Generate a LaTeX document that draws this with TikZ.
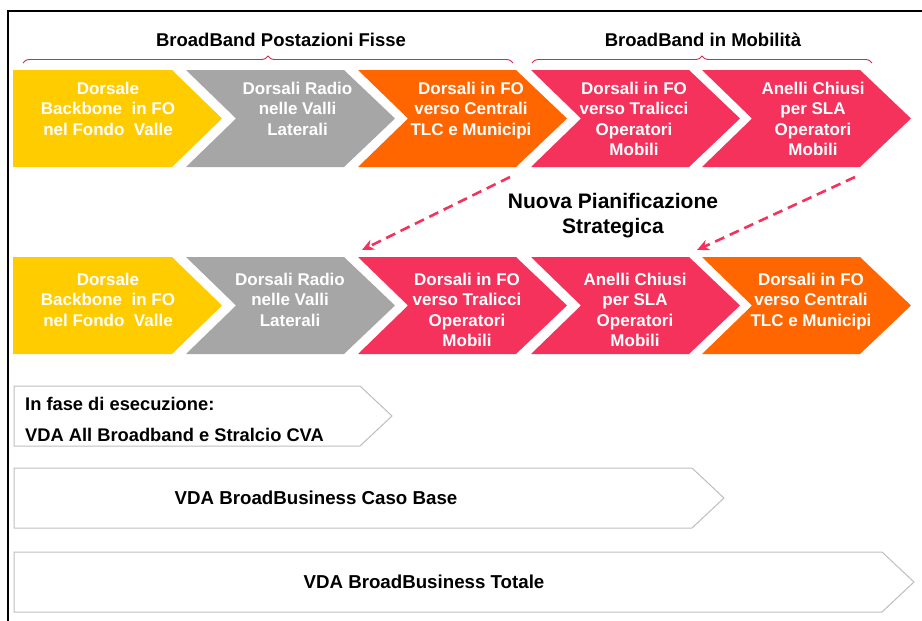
\documentclass[tikz,border=0pt]{standalone}
\usepackage{fontspec}
\setmainfont{Liberation Sans}
\definecolor{myyellow}{RGB}{255,204,0}
\definecolor{mygray}{RGB}{166,166,166}
\definecolor{myorange}{RGB}{255,102,0}
\definecolor{mypink}{RGB}{244,50,92}
\definecolor{mybrace}{RGB}{200,48,80}
\definecolor{myline}{RGB}{190,190,190}
\usetikzlibrary{arrows.meta,decorations.pathreplacing,positioning}

\begin{document}
\begin{tikzpicture}[x=1pt,y=-1pt,
        chevtext/.style={text=white,font=\fontsize{17}{20.5}\selectfont\bfseries,align=center,anchor=north,inner sep=0pt},
        title/.style={font=\fontsize{18.5}{22}\selectfont\bfseries,inner sep=0pt},
        bartext/.style={font=\fontsize{18.7}{22}\selectfont\bfseries,inner sep=0pt},
        bracket/.style={draw=mybrace,line width=0.9pt,decorate,decoration={brace,amplitude=7pt}},
        moveto/.style={draw=mypink,line width=2.6pt,dash pattern=on 10pt off 6pt,-{Stealth[length=12pt,width=11pt]}},
        pics/firstchev/.style={code={\fill[#1] (0,0) -- (159,0) -- (209,48.5) -- (159,97) -- (0,97) -- cycle;}},
        pics/chev/.style={code={\fill[#1] (0,0) -- (158,0) -- (209,48.5) -- (158,97) -- (0,97) -- (50,48.5) -- cycle;}},
        pics/bar/.style={code={\draw[myline,fill=white,line width=1pt] (0,0) -- (#1,0) -- ({#1+32},30) -- (#1,60) -- (0,60) -- cycle;}}
        ]
        \useasboundingbox (0,0) rectangle (922,621);
        \draw[line width=2pt] (8,621) -- (8,11) -- (922,11);

        % the titles
        \node[title] (fix) at (281,40) {BroadBand Postazioni Fisse};
        \node[title] (mob) at (703,40) {BroadBand in Mobilità};
        \draw[bracket] (23,63) -- (513,63);
        \draw[bracket] (532,63) -- (872,63);

        % the first plan
        \pic at (13,70) {firstchev=myyellow};
        \pic at (186,70) {chev=mygray};
        \pic at (358,70) {chev=myorange};
        \pic at (531,70) {chev=mypink};
        \pic at (702,70) {chev=mypink};
        \node[chevtext] (t1) at (108,81.5) {Dorsale\\Backbone\ \ in FO\\nel Fondo\ \ Valle};
        \node[chevtext] (t2) at (297.5,81.5) {Dorsali Radio\\nelle Valli\\Laterali};
        \node[chevtext] (t3) at (471,81.5) {Dorsali in FO\\verso Centrali\\TLC e Municipi};
        \node[chevtext] (t4) at (634,81.5) {Dorsali in FO\\verso Tralicci\\Operatori\\Mobili};
        \node[chevtext] (t5) at (813,81.5) {Anelli Chiusi\\per SLA\\Operatori\\Mobili};

        % the new plan
        \pic at (13,257) {firstchev=myyellow};
        \pic at (186,257) {chev=mygray};
        \pic at (358,257) {chev=mypink};
        \pic at (531,257) {chev=mypink};
        \pic at (702,257) {chev=myorange};
        \node[chevtext] (b1) at (108,272.5) {Dorsale\\Backbone\ \ in FO\\nel Fondo\ \ Valle};
        \node[chevtext] (b2) at (290,272.5) {Dorsali Radio\\nelle Valli\\Laterali};
        \node[chevtext] (b3) at (467,272.5) {Dorsali in FO\\verso Tralicci\\Operatori\\Mobili};
        \node[chevtext] (b4) at (635,272.5) {Anelli Chiusi\\per SLA\\Operatori\\Mobili};
        \node[chevtext] (b5) at (811,272.5) {Dorsali in FO\\verso Centrali\\TLC e Municipi};

        % the moves
        \node[font=\fontsize{21}{25}\selectfont\bfseries,align=center,anchor=north,inner sep=0pt] (np) at (613,193) {Nuova Pianificazione\\Strategica};
        \coordinate (a1) at (510,177);
        \coordinate (e1) at (362,250);
        \coordinate (a2) at (855,177);
        \coordinate (e2) at (697,250);
        \draw[moveto] (a1) -- (e1);
        \draw[moveto] (a2) -- (e2);

        % the projects
        \pic at (14,386) {bar=346};
        \pic at (14,468) {bar=678};
        \pic at (14,552) {bar=868};
        \node[bartext,align=left,anchor=north west,font=\fontsize{18.3}{31}\selectfont\bfseries] (run) at (25,397.5) {In fase di esecuzione:\\VDA All Broadband e Stralcio CVA};
        \node[bartext] (base) at (316,498) {VDA BroadBusiness Caso Base};
        \node[bartext] (tot) at (424,582) {VDA BroadBusiness Totale};
\end{tikzpicture}
\end{document}
